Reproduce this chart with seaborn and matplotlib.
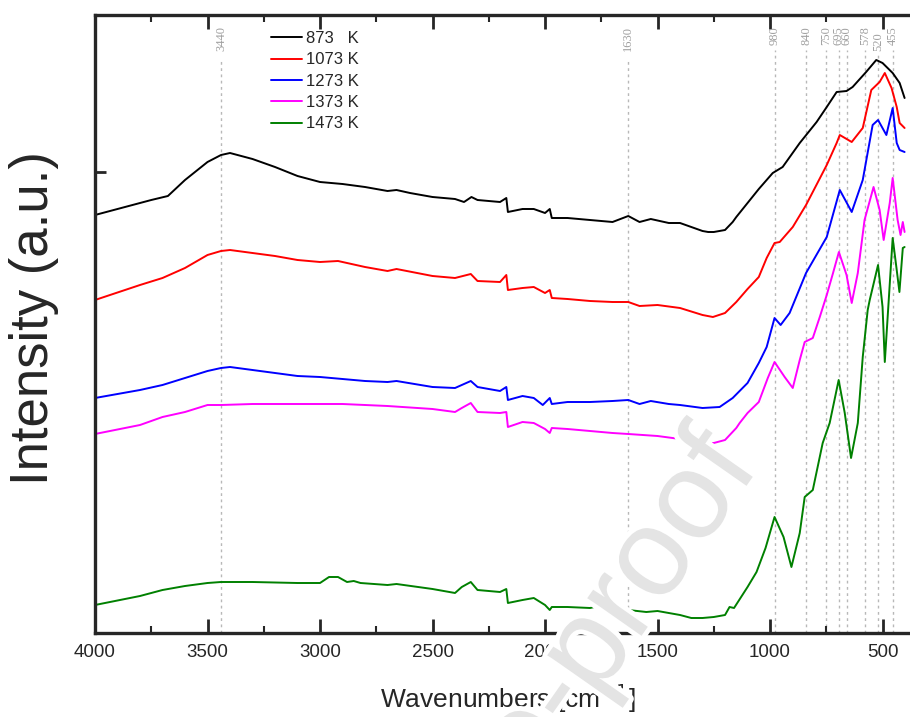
import numpy as np
import pandas as pd
import matplotlib
matplotlib.use('Agg')
import matplotlib.pyplot as plt
import matplotlib.patheffects as pe
from matplotlib import font_manager
from matplotlib.ticker import MultipleLocator
import seaborn as sns

# FTIR spectra, intensity in arbitrary units
temps = ['873   K', '1073 K', '1273 K', '1373 K', '1473 K']
colors = ['black', 'red', 'blue', 'magenta', 'green']

wn_873 = [4000, 3750, 3676, 3600, 3500, 3440, 3400, 3300, 3200, 3100, 3000, 2900, 2800, 2700,
          2660, 2600, 2500, 2400, 2360, 2327, 2300, 2200, 2172, 2165, 2100, 2050, 2000, 1979,
          1970, 1900, 1800, 1700, 1630, 1580, 1530, 1450, 1400, 1350, 1300, 1275, 1250, 1225,
          1200, 1166, 1150, 1100, 1050, 988, 944, 868, 793, 748, 704, 660, 633, 573, 528, 500,
          455, 424, 402]
int_873 = [418, 433, 437, 453, 471, 478, 480, 474, 466, 457, 451, 449, 446, 442,
           443, 440, 436, 434, 431, 436, 433, 431, 435, 421, 424, 424, 420, 424,
           415, 415, 413, 411, 417, 411, 414, 410, 410, 406, 402, 401, 401, 402,
           403, 411, 416, 430, 444, 460, 466, 490, 511, 526, 541, 542, 546, 561, 573, 570,
           560, 550, 535]

wn_1073 = [4000, 3800, 3700, 3600, 3500, 3440, 3400, 3300, 3200, 3100, 3000, 2920, 2800, 2700,
           2660, 2500, 2400, 2330, 2300, 2200, 2172, 2165, 2100, 2050, 2000, 1979, 1970, 1900,
           1800, 1700, 1630, 1580, 1500, 1400, 1300, 1254, 1200, 1150, 1100, 1050, 1015, 980,
           957, 899, 840, 748, 704, 690, 637, 588, 550, 513, 490, 460, 437, 424, 402]
int_1073 = [333, 348, 355, 365, 378, 382, 383, 380, 377, 373, 371, 372, 366, 362,
            364, 357, 355, 359, 352, 351, 358, 343, 345, 346, 340, 343, 335, 334,
            332, 331, 331, 327, 328, 325, 318, 316, 320, 331, 344, 356, 375, 390,
            391, 406, 428, 468, 490, 498, 491, 505, 543, 551, 560, 545, 526, 510, 505]

wn_1273 = [4000, 3800, 3700, 3600, 3500, 3440, 3400, 3300, 3200, 3100, 3000, 2800, 2700, 2660,
           2500, 2400, 2330, 2300, 2200, 2172, 2165, 2100, 2050, 2010, 1979, 1970, 1900, 1800,
           1700, 1630, 1580, 1530, 1450, 1400, 1300, 1224, 1166, 1100, 1050, 1015, 980, 953,
           913, 840, 748, 690, 637, 588, 544, 520, 483, 455, 437, 424, 402]
int_1273 = [235, 243, 248, 255, 262, 265, 266, 263, 260, 257, 256, 252, 251, 252,
            246, 245, 252, 246, 242, 246, 233, 237, 235, 228, 235, 229, 231, 231,
            232, 233, 229, 232, 229, 228, 225, 226, 235, 250, 270, 286, 315, 308,
            320, 360, 396, 443, 421, 453, 508, 513, 498, 525, 490, 483, 481]

wn_1373 = [4000, 3800, 3700, 3600, 3500, 3440, 3300, 3100, 2900, 2700, 2500, 2400, 2370, 2330,
           2300, 2200, 2172, 2165, 2100, 2050, 2000, 1979, 1970, 1900, 1800, 1700, 1630, 1500,
           1400, 1300, 1250, 1200, 1150, 1135, 1100, 1050, 1010, 980, 935, 899, 868, 846,
           810, 779, 748, 720, 694, 660, 637, 610, 580, 540, 513, 495, 468, 455, 433, 420,
           410, 402]
int_1373 = [199, 208, 216, 221, 228, 228, 229, 229, 229, 227, 224, 221, 225, 230,
            221, 220, 221, 206, 211, 210, 204, 200, 205, 204, 202, 200, 199, 197,
            194, 190, 190, 193, 205, 210, 220, 231, 255, 271, 256, 245, 273, 291,
            295, 316, 338, 360, 381, 358, 330, 360, 413, 446, 423, 393, 430, 455, 413, 398,
            411, 401]

wn_1473 = [4000, 3800, 3700, 3600, 3500, 3440, 3300, 3100, 3000, 2960, 2920, 2880, 2850, 2820,
           2700, 2660, 2500, 2400, 2370, 2330, 2300, 2200, 2172, 2165, 2100, 2050, 2000, 1979,
           1970, 1900, 1800, 1760, 1630, 1550, 1500, 1400, 1350, 1300, 1250, 1200, 1180, 1160,
           1100, 1060, 1020, 980, 940, 905, 868, 846, 810, 766, 735, 695, 668, 640, 610, 588,
           566, 557, 520, 500, 490, 455, 437, 425, 410, 402]
int_1473 = [28, 37, 43, 47, 50, 51, 51, 50, 50, 56, 56, 51, 52, 50,
            48, 49, 44, 40, 46, 51, 43, 41, 44, 30, 33, 35, 28, 23,
            26, 26, 25, 27, 23, 21, 22, 18, 15, 15, 16, 18, 26, 25,
            46, 61, 85, 116, 96, 66, 100, 136, 143, 190, 210, 253, 220, 175, 210, 276,
            323, 333, 368, 326, 271, 395, 363, 341, 385, 386]

peak_wn = [3440, 1630, 980, 840, 750, 695, 660, 578, 520, 455]
peak_labels = ['3440', '1630', '980', '840', '750', '695', '660', '578', '520', '455']


def has_font(name):
    try:
        font_manager.findfont(font_manager.FontProperties(family=name),
                              fallback_to_default=False)
        return True
    except ValueError:
        return False


sns.set_style('ticks')
narrow = has_font('Liberation Sans Narrow')
if narrow:
    txt_font = 'Liberation Sans Narrow'
    tick_fs, xlab_fs, leg_fs = 17, 22.5, 14.5
else:
    txt_font = 'Liberation Sans'
    tick_fs, xlab_fs, leg_fs = 13.5, 19, 12
plt.rcParams['font.family'] = [txt_font, 'DejaVu Sans']

frames = []
for t, wn, inten in zip(temps,
                        [wn_873, wn_1073, wn_1273, wn_1373, wn_1473],
                        [int_873, int_1073, int_1273, int_1373, int_1473]):
    frames.append(pd.DataFrame({'wn': wn, 'intensity': inten, 'temp': t}))
df = pd.concat(frames, ignore_index=True)

fig = plt.figure(figsize=(9.1, 7.17), dpi=100)
ax = fig.add_axes([95 / 910, 1 - 633 / 717, 815 / 910, 618 / 717])

# reference lines for band positions
for w, lab in zip(peak_wn, peak_labels):
    top = 0.930 if len(lab) == 4 else 0.943
    ytxt = 0.982
    if lab == '520':
        ytxt = 0.972
        top = 0.935
    ax.axvline(w, ymin=0, ymax=top, color='#b8b8b8', ls=(0, (2, 2.5)), lw=1.0, zorder=0.5)
    ax.text(w, ytxt, lab, transform=ax.get_xaxis_transform(), rotation=90,
            ha='center', va='top', fontsize=9, color='#a0a0a0', family='Liberation Serif')

sns.lineplot(data=df, x='wn', y='intensity', hue='temp', hue_order=temps,
             palette=colors, sort=False, estimator=None, lw=1.4, ax=ax)

ax.set_xlim(4000, 378)
ax.set_ylim(0, 618)
ax.xaxis.set_major_locator(MultipleLocator(500))
ax.xaxis.set_minor_locator(MultipleLocator(250))
ax.set_yticks([461])
ax.set_yticklabels([])

ax.tick_params(axis='x', which='major', direction='in', length=10, width=2,
               top=True, bottom=True, labelsize=tick_fs, pad=8)
ax.tick_params(axis='x', which='minor', direction='in', length=5, width=1.5,
               top=True, bottom=True)
ax.tick_params(axis='y', which='major', direction='in', length=8, width=2, left=True)

for side in ['left', 'top', 'bottom']:
    ax.spines[side].set_linewidth(2.4)
ax.spines['right'].set_visible(False)

ax.set_xlabel('Wavenumbers [cm$^{-1}$]', fontsize=xlab_fs)
ax.xaxis.set_label_coords(0.506, -0.079)
ax.set_ylabel('Intensity (a.u.)', fontsize=38, family='Liberation Sans')
ax.yaxis.set_label_coords(-0.044, 0.51)

handles, labels = ax.get_legend_handles_labels()
ax.legend(handles, labels, loc='upper left', bbox_to_anchor=(271 / 910, 1 - 31 / 717),
          bbox_transform=fig.transFigure, frameon=False, fontsize=leg_fs,
          handlelength=1.85, handletextpad=0.25, labelspacing=0.38,
          borderpad=0, borderaxespad=0)

# watermark
fig.text(0.835, 0.349, 'Journal Pre-proof', rotation=55, rotation_mode='anchor',
         ha='right', va='baseline', fontsize=90, color='#e4e4e4', family='Liberation Sans',
         zorder=10, path_effects=[pe.withStroke(linewidth=7, foreground='white')])

fig.savefig('out.png', dpi=100)
